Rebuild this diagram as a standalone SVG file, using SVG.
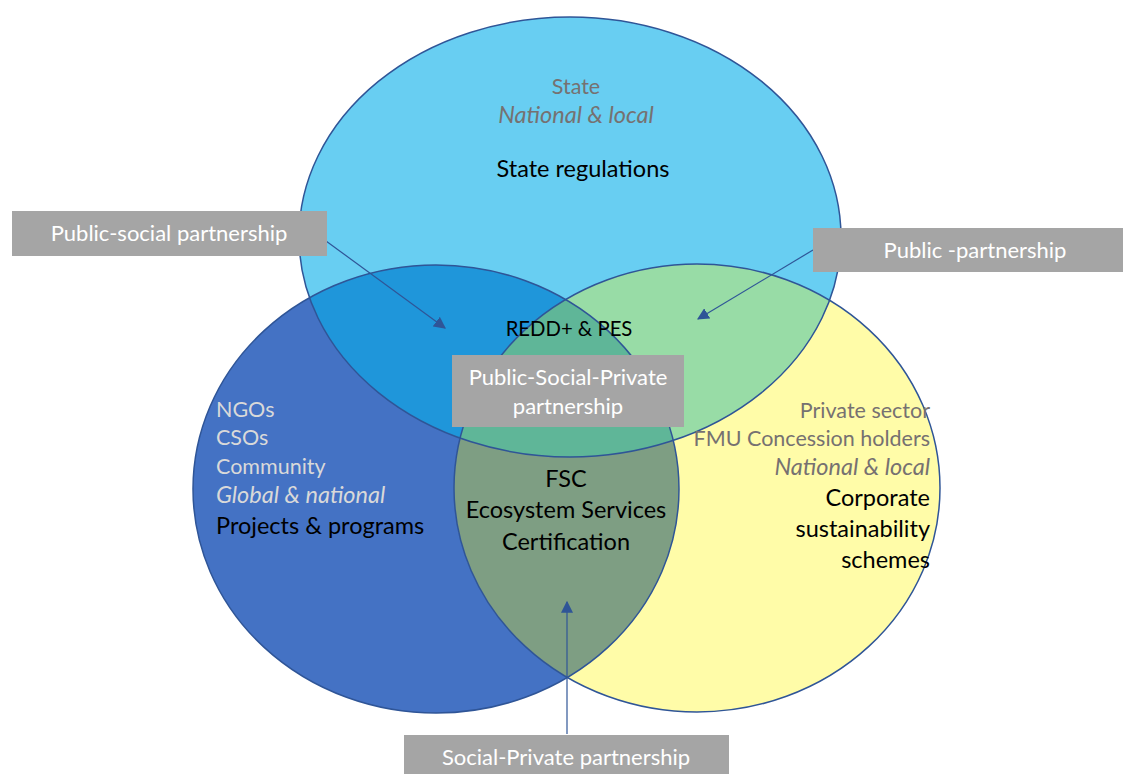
<svg xmlns="http://www.w3.org/2000/svg" width="1123" height="774" viewBox="0 0 1123 774">
<style>
text{font-family:Lato,"Liberation Sans",sans-serif}
.lbl{fill:#A5A5A5}
.lt{fill:#FFFFFF;font-size:22px;text-anchor:middle}
.blk{fill:#000000;font-size:23.5px}
.gry{fill:#767171;font-size:21.5px}
.lgr{fill:#D9D9D9;font-size:21.5px}
.it{font-style:italic;font-size:23.5px}
.sm{font-size:20.3px}
.out{fill:none;stroke:#2F5597;stroke-width:1.5}
.con{stroke:#2F5597;stroke-width:1.2;fill:none;marker-end:url(#ah)}
</style>
<defs>
<marker id="ah" viewBox="0 0 10 10" refX="9" refY="5" markerWidth="12" markerHeight="12" markerUnits="userSpaceOnUse" orient="auto">
<path d="M0,0 L10,5 L0,10 z" fill="#2F5597"/>
</marker>
<clipPath id="cT"><ellipse cx="570" cy="237" rx="271" ry="220"/></clipPath>
<clipPath id="cL"><ellipse cx="436" cy="489" rx="243" ry="224"/></clipPath>
<clipPath id="cR"><ellipse cx="697" cy="488" rx="243" ry="224"/></clipPath>
</defs>
<rect width="1123" height="774" fill="#FFFFFF"/>
<g id="circles">
<ellipse cx="436" cy="489" rx="243" ry="224" fill="#4472C4"/>
<ellipse cx="697" cy="488" rx="243" ry="224" fill="#FFFCA8"/>
<ellipse cx="570" cy="237" rx="271" ry="220" fill="#68CEF2"/>
<g clip-path="url(#cL)"><ellipse cx="697" cy="488" rx="243" ry="224" fill="#7E9E83"/></g>
<g clip-path="url(#cT)"><ellipse cx="436" cy="489" rx="243" ry="224" fill="#1F96DA"/></g>
<g clip-path="url(#cT)"><ellipse cx="697" cy="488" rx="243" ry="224" fill="#98DCA6"/></g>
<g clip-path="url(#cT)"><g clip-path="url(#cL)"><ellipse cx="697" cy="488" rx="243" ry="224" fill="#5FB698"/></g></g>
<ellipse class="out" cx="436" cy="489" rx="243" ry="224"/>
<ellipse class="out" cx="697" cy="488" rx="243" ry="224"/>
<ellipse class="out" cx="570" cy="237" rx="271" ry="220"/>
</g>
<g id="state">
<text class="gry" x="576" y="94" text-anchor="middle">State</text>
<text class="gry it" x="576" y="123" text-anchor="middle">National &amp; local</text>
<text class="blk" x="583" y="177" text-anchor="middle">State regulations</text>
</g>
<g id="social">
<text class="lgr" x="216" y="417">NGOs</text>
<text class="lgr" x="216" y="445">CSOs</text>
<text class="lgr" x="216" y="474">Community</text>
<text class="lgr it" x="216" y="503">Global &amp; national</text>
<text class="blk" x="216" y="534">Projects &amp; programs</text>
</g>
<g id="private">
<text class="gry" x="930" y="418" text-anchor="end">Private sector</text>
<text class="gry" x="930" y="446" text-anchor="end">FMU Concession holders</text>
<text class="gry it" x="930" y="475" text-anchor="end">National &amp; local</text>
<text class="blk" x="930" y="506" text-anchor="end">Corporate</text>
<text class="blk" x="930" y="537" text-anchor="end">sustainability</text>
<text class="blk" x="930" y="568" text-anchor="end">schemes</text>
</g>
<g id="center">
<text class="blk sm" x="569" y="336" text-anchor="middle">REDD+ &amp; PES</text>
<text class="blk" x="566" y="487" text-anchor="middle">FSC</text>
<text class="blk" x="566" y="518" text-anchor="middle">Ecosystem Services</text>
<text class="blk" x="566" y="550" text-anchor="middle">Certification</text>
</g>
<g id="connectors">
<path class="con" d="M326,241 L445,328"/>
<path class="con" d="M813,250 L698,319"/>
<path class="con" d="M567,734 L567,602"/>
</g>
<g id="label-public-social">
<rect class="lbl" x="12" y="211" width="315" height="45"/>
<text class="lt" x="169" y="241">Public-social partnership</text>
</g>
<g id="label-public">
<rect class="lbl" x="813" y="228" width="310" height="44"/>
<text class="lt" x="975" y="258">Public -partnership</text>
</g>
<g id="label-psp">
<rect class="lbl" x="452" y="355" width="232" height="72"/>
<text class="lt" x="568" y="385">Public-Social-Private</text>
<text class="lt" x="568" y="414">partnership</text>
</g>
<g id="label-social-private">
<rect class="lbl" x="404" y="735" width="325" height="39"/>
<text class="lt" x="566" y="765">Social-Private partnership</text>
</g>
</svg>
